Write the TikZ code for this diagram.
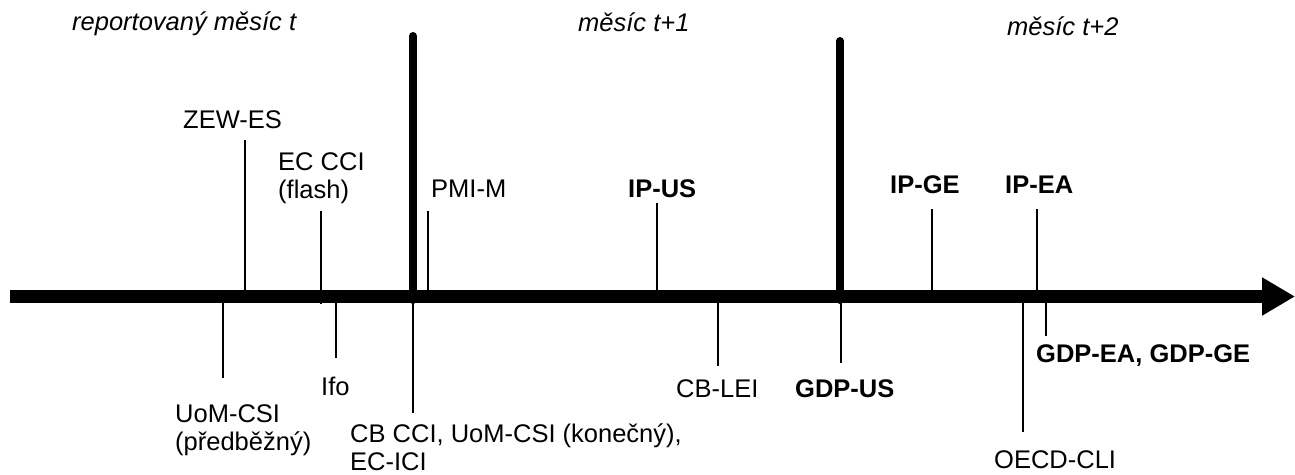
\documentclass[tikz,border=0pt]{standalone}
\usepackage{fontspec}
\setmainfont{Liberation Sans}
\usetikzlibrary{arrows.meta}

\begin{document}
\begin{tikzpicture}[
    x=1pt, y=-1pt,
    every node/.style={font=\fontsize{25.5}{28}\selectfont, inner sep=0pt},
    lbl/.style={anchor=base west},
    mlbl/.style={anchor=north west, align=left},
    head/.style={lbl, font=\fontsize{25.5}{28}\selectfont\itshape},
    key/.style={lbl, font=\fontsize{25.5}{28}\selectfont\bfseries},
    axis/.style={line width=13pt, -{Triangle[length=33pt, width=36pt]}},
    border/.style={line width=8pt, line cap=round},
    tick/.style={line width=1.4pt},
]
\useasboundingbox (0,0) rectangle (1295,474);

% === Month headings ===
\node[head] (mt)  at (72,30)   {reportovaný měsíc t};
\node[head] (mt1) at (578,31)  {měsíc t+1};
\node[head] (mt2) at (1007,35) {měsíc t+2};

% === Time axis and month borders ===
\coordinate (start) at (10,296.5);
\coordinate (end) at (1295,296.5);
\draw[axis] (start) -- (end);

\coordinate (b1top) at (413,36);  \coordinate (b1bot) at (413,300);
\coordinate (b2top) at (840,41);  \coordinate (b2bot) at (840,300);
\draw[border] (b1top) -- (b1bot);
\draw[border] (b2top) -- (b2bot);

% === Releases above the axis ===
\node[lbl] (zew) at (183,128) {ZEW-ES};
\node[mlbl] (ecflash) at (278,152.5) {EC CCI\\(flash)};
\node[lbl] (pmi) at (431,197) {PMI-M};
\node[key] (ipus) at (628,197) {IP-US};
\node[key] (ipge) at (890,193) {IP-GE};
\node[key] (ipea) at (1005,193) {IP-EA};

\coordinate (zewT) at (245,140);      \coordinate (zewB) at (245,291);
\coordinate (ecflashT) at (321,211);  \coordinate (ecflashB) at (321,304);
\coordinate (pmiT) at (428,211);      \coordinate (pmiB) at (428,291);
\coordinate (ipusT) at (657,203);     \coordinate (ipusB) at (657,291);
\coordinate (ipgeT) at (932,209);     \coordinate (ipgeB) at (932,291);
\coordinate (ipeaT) at (1037,209);    \coordinate (ipeaB) at (1037,291);

\draw[tick] (zewT) -- (zewB);
\draw[tick] (ecflashT) -- (ecflashB);
\draw[tick] (pmiT) -- (pmiB);
\draw[tick] (ipusT) -- (ipusB);
\draw[tick] (ipgeT) -- (ipgeB);
\draw[tick] (ipeaT) -- (ipeaB);

% === Releases below the axis ===
\node[mlbl] (uom) at (175,404.5) {UoM-CSI\\(předběžný)};
\node[lbl] (ifo) at (321,395) {Ifo};
\node[mlbl] (cbcci) at (350,423.5) {CB CCI, UoM-CSI (konečný),\\EC-ICI};
\node[lbl] (cblei) at (676,397) {CB-LEI};
\node[key] (gdpus) at (795,397) {GDP-US};
\node[lbl] (oecd) at (994,468) {OECD-CLI};
\node[key] (gdpea) at (1036,362) {GDP-EA, GDP-GE};

\coordinate (uomT) at (223,303);      \coordinate (uomB) at (223,378);
\coordinate (ifoT) at (336,303);      \coordinate (ifoB) at (336,358);
\coordinate (cbcciT) at (413,302);    \coordinate (cbcciB) at (413,413);
\coordinate (cbleiT) at (718,303);    \coordinate (cbleiB) at (718,366);
\coordinate (gdpusT) at (841,302);    \coordinate (gdpusB) at (841,363);
\coordinate (oecdT) at (1023,303);    \coordinate (oecdB) at (1023,432);
\coordinate (gdpeaT) at (1046,303);   \coordinate (gdpeaB) at (1046,336);

\draw[tick] (uomT) -- (uomB);
\draw[tick] (ifoT) -- (ifoB);
\draw[tick] (cbcciT) -- (cbcciB);
\draw[tick] (cbleiT) -- (cbleiB);
\draw[tick] (gdpusT) -- (gdpusB);
\draw[tick] (oecdT) -- (oecdB);
\draw[tick] (gdpeaT) -- (gdpeaB);

\end{tikzpicture}
\end{document}
